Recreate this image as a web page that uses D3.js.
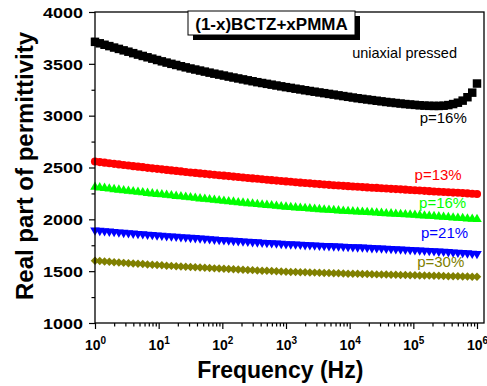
<!DOCTYPE html>
<html>
<head>
<meta charset="utf-8">
<script src="https://cdn.jsdelivr.net/npm/d3@7"></script>
<style>
  body { margin: 0; background: #fff; }
  svg { display: block; }
  text { font-family: Arial, "Liberation Sans", sans-serif; }
</style>
</head>
<body>
<svg id="chart" width="487" height="386"></svg>
<script>
// Frequency sweep: 81 log-spaced points, 1 Hz .. 1 MHz (0.075 decade step)
const freqExponents = d3.range(81).map(i => i * 0.075);

// Real part of permittivity for each sample
const blackP16 = [3712,3698,3684,3671,3657,3644,3630,3617,3603,3589,3576,3563,3550,3537,3524,3512,3500,3489,3477,3466,
  3455,3445,3435,3425,3415,3405,3396,3387,3377,3368,3359,3350,3341,3332,3323,3315,3307,3299,3291,3283,
  3275,3268,3260,3253,3245,3238,3231,3224,3217,3210,3203,3196,3189,3182,3175,3168,3162,3156,3150,3144,
  3138,3132,3127,3122,3117,3112,3108,3104,3100,3097,3095,3094,3094,3096,3102,3112,3125,3145,3178,3222,3310];
const redP13 = [2558,2552,2547,2541,2535,2530,2524,2519,2513,2508,2503,2497,2492,2487,2482,2477,2472,2467,2462,2457,
  2452,2448,2443,2439,2434,2430,2425,2421,2417,2412,2408,2404,2399,2395,2391,2387,2382,2378,2374,2370,
  2366,2362,2358,2354,2351,2347,2343,2340,2336,2333,2329,2326,2323,2320,2317,2314,2311,2308,2305,2303,
  2300,2297,2294,2292,2289,2286,2283,2281,2278,2275,2272,2269,2266,2264,2261,2258,2256,2253,2250,2247,2244];
const greenP16 = [2312,2306,2301,2295,2289,2284,2278,2273,2268,2263,2258,2253,2248,2243,2239,2234,2229,2224,2220,2215,
  2210,2205,2200,2196,2191,2186,2181,2177,2172,2168,2163,2159,2154,2150,2146,2141,2137,2133,2129,2124,
  2120,2117,2113,2110,2106,2103,2099,2096,2093,2090,2087,2084,2081,2078,2075,2073,2070,2068,2065,2063,
  2060,2057,2055,2052,2049,2047,2044,2041,2038,2035,2032,2029,2026,2023,2020,2016,2013,2010,2006,2003,2000];
const blueP21 = [1895,1891,1887,1884,1880,1876,1872,1869,1865,1861,1858,1854,1851,1847,1844,1840,1837,1834,1830,1827,
  1824,1821,1817,1814,1811,1807,1804,1801,1798,1795,1792,1789,1786,1783,1780,1777,1774,1772,1769,1766,
  1763,1761,1759,1757,1754,1752,1750,1748,1746,1744,1742,1740,1738,1736,1734,1732,1730,1728,1725,1723,
  1721,1719,1716,1714,1712,1709,1707,1704,1702,1699,1697,1694,1691,1689,1686,1683,1680,1677,1674,1671,1668];
const oliveP30 = [1600,1597,1594,1590,1587,1584,1580,1577,1574,1571,1568,1565,1562,1559,1556,1553,1551,1548,1545,1543,
  1540,1537,1535,1532,1530,1527,1525,1523,1520,1518,1516,1514,1512,1510,1507,1505,1503,1501,1499,1497,
  1495,1493,1492,1490,1489,1487,1486,1484,1483,1482,1480,1479,1478,1476,1475,1474,1473,1472,1470,1469,
  1468,1467,1466,1465,1464,1462,1461,1460,1459,1458,1457,1456,1455,1454,1452,1451,1450,1449,1448,1447,1446];

const seriesValues = [blackP16, redP13, greenP16, blueP21, oliveP30];
const seriesColors = ["#000000", "#ff0000", "#00ff00", "#0000ff", "#808000"];
const seriesLabels = ["p=16%", "p=13%", "p=16%", "p=21%", "p=30%"];
// label anchor (right end) in data space: [frequency exponent, permittivity]
const labelAnchors = [[5.84, 2929], [5.76, 2379], [5.83, 2109], [5.86, 1820], [5.80, 1540]];

const yTicks = [1000, 1500, 2000, 2500, 3000, 3500, 4000];
const xTickExponents = [0, 1, 2, 3, 4, 5, 6];

const W = 487, H = 386;
const margin = { left: 95, top: 12, right: 3, bottom: 63 };
const innerW = W - margin.left - margin.right;
const innerH = H - margin.top - margin.bottom;

const svg = d3.select("#chart");
const g = svg.append("g").attr("transform", `translate(${margin.left},${margin.top})`);

const x = d3.scaleLog().domain([1, Math.pow(10, 6.11)]).range([0, innerW]);
const y = d3.scaleLinear().domain([1000, 4000]).range([innerH, 0]);

// marker shapes per series
const symSquare = d3.symbol().type(d3.symbolSquare).size(72)();
const symCircle = d3.symbol().type(d3.symbolCircle).size(52)();
const symTri = d3.symbol().type(d3.symbolTriangle).size(40)();
const symDiamond = d3.symbol().type(d3.symbolSquare).size(36)();
const markers = [
  { path: symSquare, rot: 0 },
  { path: symCircle, rot: 0 },
  { path: symTri, rot: 0 },
  { path: symTri, rot: 180 },
  { path: symDiamond, rot: 45 }
];

seriesValues.forEach((vals, si) => {
  const m = markers[si];
  g.append("g")
    .attr("fill", seriesColors[si])
    .selectAll("path")
    .data(vals)
    .join("path")
    .attr("d", m.path)
    .attr("transform", (d, i) => `translate(${x(Math.pow(10, freqExponents[i]))},${y(d)}) rotate(${m.rot})`);
});

// axes
const xMinor = [];
xTickExponents.slice(0, -1).forEach(e => {
  for (let k = 2; k <= 9; k++) xMinor.push(k * Math.pow(10, e));
});
g.append("g")
  .attr("transform", `translate(0,${innerH})`)
  .call(d3.axisBottom(x).tickValues(xMinor).tickSize(3.5).tickFormat(""))
  .call(a => a.select(".domain").remove())
  .call(a => a.selectAll("line").attr("stroke", "#000").attr("stroke-width", 1.2));

const xAxis = g.append("g")
  .attr("transform", `translate(0,${innerH})`)
  .call(d3.axisBottom(x).tickValues(xTickExponents.map(e => Math.pow(10, e))).tickSize(6).tickFormat(""));
xAxis.select(".domain").remove();
xAxis.selectAll("line").attr("stroke", "#000").attr("stroke-width", 1.2);
xAxis.selectAll(".tick").each(function (d, i) {
  const t = d3.select(this).append("text")
    .attr("y", 27)
    .attr("text-anchor", "middle")
    .attr("fill", "#000")
    .attr("font-weight", "bold")
    .attr("font-size", 14);
  t.append("tspan").text("10");
  t.append("tspan").attr("font-size", 10).attr("dy", -6).text(String(xTickExponents[i]));
});

const yMinor = d3.range(1250, 4000, 500);
g.append("g")
  .call(d3.axisLeft(y).tickValues(yMinor).tickSize(3.5).tickFormat(""))
  .call(a => a.select(".domain").remove())
  .call(a => a.selectAll("line").attr("stroke", "#000").attr("stroke-width", 1.2));

const yAxis = g.append("g")
  .call(d3.axisLeft(y).tickValues(yTicks).tickSize(6).tickFormat(""));
yAxis.select(".domain").remove();
yAxis.selectAll("line").attr("stroke", "#000").attr("stroke-width", 1.2);
yAxis.selectAll(".tick").append("text")
  .attr("x", -12)
  .attr("dy", "0.36em")
  .attr("text-anchor", "end")
  .attr("fill", "#000")
  .attr("font-weight", "bold")
  .attr("font-size", 14.5)
  .attr("textLength", 40)
  .attr("lengthAdjust", "spacingAndGlyphs")
  .text(d => d);

// frame
g.append("rect")
  .attr("width", innerW).attr("height", innerH)
  .attr("fill", "none").attr("stroke", "#000").attr("stroke-width", 1.3);

// series labels
seriesLabels.forEach((lab, i) => {
  g.append("text")
    .attr("x", x(Math.pow(10, labelAnchors[i][0])))
    .attr("y", y(labelAnchors[i][1]))
    .attr("text-anchor", "end")
    .attr("font-size", 15)
    .attr("fill", seriesColors[i])
    .text(lab);
});

g.append("text")
  .attr("x", x(Math.pow(10, 4.04)))
  .attr("y", y(3556))
  .attr("font-size", 14.5)
  .attr("fill", "#000")
  .text("uniaxial pressed");

// composition title box with drop shadow
const box = { x: 93, y: -1, w: 167, h: 24 };
g.append("rect").attr("x", box.x + 5).attr("y", box.y + 5).attr("width", box.w).attr("height", box.h).attr("fill", "#000");
g.append("rect").attr("x", box.x).attr("y", box.y).attr("width", box.w).attr("height", box.h)
  .attr("fill", "#fff").attr("stroke", "#000").attr("stroke-width", 1);
g.append("text")
  .attr("x", box.x + box.w / 2).attr("y", box.y + 19)
  .attr("text-anchor", "middle")
  .attr("font-weight", "bold").attr("font-size", 17)
  .attr("fill", "#000")
  .text("(1-x)BCTZ+xPMMA");

// axis titles
svg.append("text")
  .attr("x", margin.left + x(Math.pow(10, 2.91)))
  .attr("y", 378)
  .attr("text-anchor", "middle")
  .attr("font-weight", "bold").attr("font-size", 23)
  .attr("fill", "#000")
  .text("Frequency (Hz)");

svg.append("text")
  .attr("transform", "translate(33,166) rotate(-90)")
  .attr("text-anchor", "middle")
  .attr("font-weight", "bold").attr("font-size", 24)
  .attr("fill", "#000")
  .text("Real part of permittivity");
</script>
</body>
</html>
